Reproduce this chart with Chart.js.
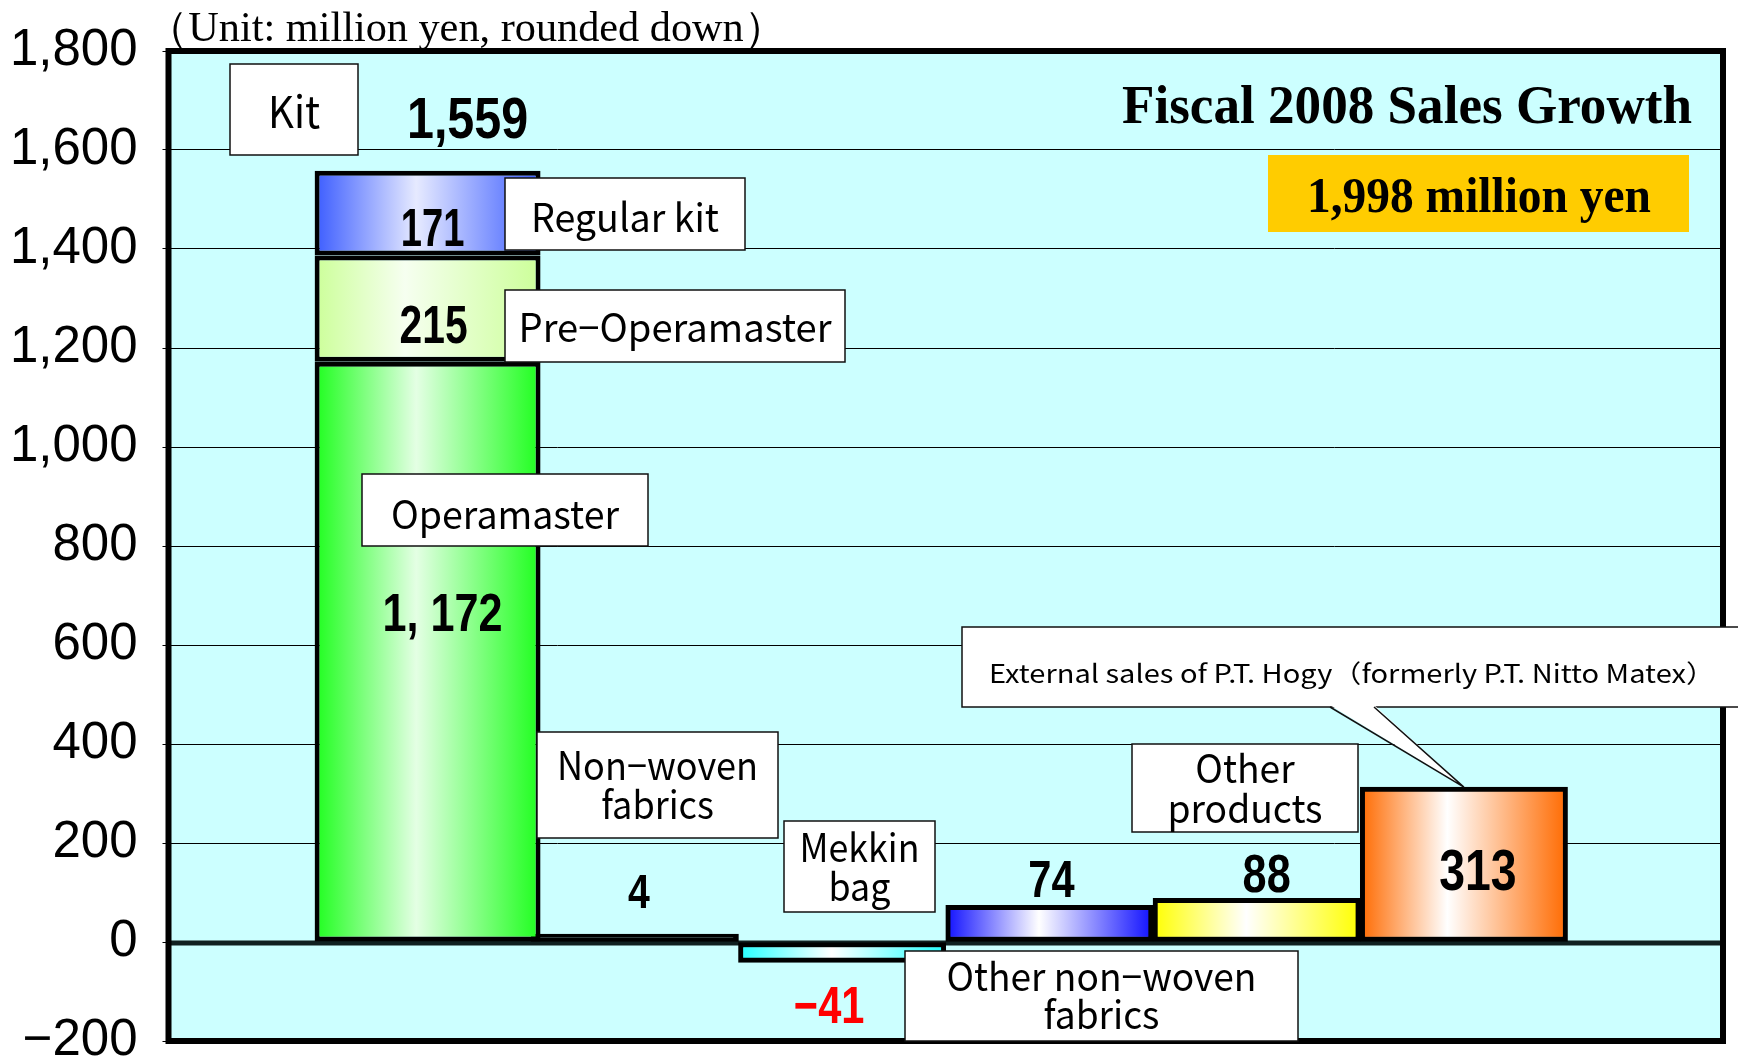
<!DOCTYPE html>
<html>
<head>
<meta charset="utf-8">
<script src="https://cdn.jsdelivr.net/npm/chart.js@4.4.0/dist/chart.umd.min.js"></script>
<style>
  html, body { margin: 0; padding: 0; background: #fff; }
  #wrap { width: 1738px; height: 1064px; }
</style>
</head>
<body>
<div id="wrap"><canvas id="growth" width="1738" height="1064"></canvas></div>
<script>
'use strict';

// ---- data (million yen, fiscal 2008 sales growth) ----
const CATEGORIES      = ['Kit', 'Non−woven fabrics', 'Mekkin bag', 'Other non−woven fabrics', 'Other products', 'External sales of P.T. Hogy'];
const KIT_SEGMENTS    = ['Operamaster', 'Pre−Operamaster', 'Regular kit'];
const OPERAMASTER     = [1172, null, null, null, null, null];
const PRE_OPERAMASTER = [215,  null, null, null, null, null];
const REGULAR_KIT     = [171,  null, null, null, null, null];
const OTHER_GROWTH    = [null, 4, -41, 74, 88, 313];
const KIT_TOTAL       = 1559;
const TOTAL_GROWTH    = 1998;
const Y_TICKS         = [-200, 0, 200, 400, 600, 800, 1000, 1200, 1400, 1600, 1800];

const SANS  = "'Liberation Sans', Arial, sans-serif";
const SERIF = "'Liberation Serif', 'Times New Roman', serif";
const GOTH  = "'Noto Sans CJK JP', 'Noto Sans', sans-serif";

// horizontal gradients, one per bar
const GRAD = {
  green:   [[0, '#1eff1e'], [0.45, '#e4ffe4'], [1, '#1eff1e']],
  lime:    [[0, '#ccff99'], [0.4, '#f6fff0'], [1, '#ccff99']],
  kitBlue: [[0, '#3b5cff'], [0.45, '#e6eaff'], [1, '#3b5cff']],
  black:   [[0, '#000'], [1, '#000']],
  cyan:    [[0, '#22ffff'], [0.45, '#ffffff'], [1, '#22ffff']],
  blue:    [[0, '#1010ff'], [0.45, '#ffffff'], [1, '#1010ff']],
  yellow:  [[0, '#ffff00'], [0.45, '#ffffff'], [1, '#ffff00']],
  orange:  [[0, '#ff6a00'], [0.42, '#ffffff'], [1, '#ff6a00']],
};
const OTHER_GRADS = [null, GRAD.black, GRAD.cyan, GRAD.blue, GRAD.yellow, GRAD.orange];
const KIT_WIDTH = 1.09;

const points = vals => vals.map((v, i) => v == null ? null : { x: i, y: v }).filter(p => p);
const fmt = v => (v < 0 ? '−' : '') + Math.abs(v).toLocaleString('en-US');

function gradientFill(pick, widthPct) {
  return ctx => {
    const stops = pick(ctx.raw ? ctx.raw.x : 0);
    const xs = ctx.chart.scales.x;
    if (!ctx.raw || !xs) return stops[0][1];
    const cx = xs.getPixelForValue(ctx.raw.x);
    const half = (xs.getPixelForValue(1) - xs.getPixelForValue(0)) * widthPct / 2;
    if (!isFinite(cx) || !isFinite(half)) return stops[0][1];
    const g = ctx.chart.ctx.createLinearGradient(cx - half, 0, cx + half, 0);
    stops.forEach(([o, c]) => g.addColorStop(o, c));
    return g;
  };
}

function drawText(ctx, text, x, y, font, color, sx, baseline) {
  ctx.save();
  ctx.font = font;
  ctx.fillStyle = color;
  ctx.textAlign = 'center';
  ctx.textBaseline = baseline || 'middle';
  ctx.translate(x, y);
  ctx.scale(sx, 1);
  ctx.fillText(text, 0, 0);
  ctx.restore();
}

function fitScale(ctx, lines, font, targetW) {
  ctx.save();
  ctx.font = font;
  const w = Math.max(...lines.map(l => ctx.measureText(l).width));
  ctx.restore();
  return targetW / w;
}

// label boxes: [left, top, width, height], line centres, widest-line width
const BOXES = [
  { r: [230, 64, 128, 91],  lines: [CATEGORIES[0]],                  ys: [111],      tw: 52,  size: 44 },
  { r: [505, 178, 240, 72], lines: [KIT_SEGMENTS[2]],                ys: [217],      tw: 188, size: 39 },
  { r: [505, 290, 340, 72], lines: [KIT_SEGMENTS[1]],                ys: [327],      tw: 313, size: 39 },
  { r: [362, 474, 286, 72], lines: [KIT_SEGMENTS[0]],                ys: [514],      tw: 228, size: 39 },
  { r: [537, 732, 241, 106], lines: ['Non−woven', 'fabrics'],        ys: [765, 804], tw: 201, size: 39 },
  { r: [784, 821, 151, 91], lines: ['Mekkin', 'bag'],                ys: [847, 886], tw: 120, size: 39 },
  { r: [905, 951, 393, 90], lines: ['Other non−woven', 'fabrics'],   ys: [976, 1014], tw: 310, size: 39 },
  { r: [1132, 744, 226, 88], lines: ['Other', 'products'],           ys: [768, 808], tw: 155, size: 39 },
];

// value labels anchored to the bars
const VALUE_LABELS = [
  { text: fmt(KIT_TOTAL), i: 0, v: KIT_TOTAL, dx: 40, dy: -53, size: 57, sx: 0.85 },
  { text: fmt(REGULAR_KIT[0]), i: 0, v: OPERAMASTER[0] + PRE_OPERAMASTER[0] + REGULAR_KIT[0] / 2, dx: 5, dy: 14, size: 53, sx: 0.72 },
  { text: fmt(PRE_OPERAMASTER[0]), i: 0, v: OPERAMASTER[0] + PRE_OPERAMASTER[0] / 2, dx: 6, dy: 15, size: 53, sx: 0.77 },
  { text: fmt(OPERAMASTER[0]).replace(',', ', '), i: 0, v: OPERAMASTER[0] / 2, dx: 15, dy: -40, size: 54 },
  { text: fmt(OTHER_GROWTH[1]), i: 1, v: OTHER_GROWTH[1], dx: 4, dy: -50, size: 49 },
  { text: fmt(OTHER_GROWTH[2]), i: 2, v: OTHER_GROWTH[2], dx: -13, dy: 42, size: 52, color: '#ff0000' },
  { text: fmt(OTHER_GROWTH[3]), i: 3, v: OTHER_GROWTH[3], dx: 2, dy: -27, size: 52 },
  { text: fmt(OTHER_GROWTH[4]), i: 4, v: OTHER_GROWTH[4], dx: 10, dy: -26, size: 54 },
  { text: fmt(OTHER_GROWTH[5]), i: 5, v: OTHER_GROWTH[5] / 2, dx: 14, dy: 5, size: 58 },
];

const decor = {
  id: 'decor',
  beforeDraw(chart) {
    const { ctx, chartArea: a } = chart;
    ctx.save();
    ctx.fillStyle = '#fff';
    ctx.fillRect(0, 0, chart.width, chart.height);
    ctx.fillStyle = '#ccffff';
    ctx.fillRect(a.left, a.top, a.right - a.left, a.bottom - a.top);
    ctx.restore();
  },
  beforeDatasetsDraw(chart) {
    // heavy zero line
    const { ctx, chartArea: a } = chart;
    const y0 = chart.scales.y.getPixelForValue(0);
    ctx.save();
    ctx.strokeStyle = '#102020';
    ctx.lineWidth = 5;
    ctx.beginPath();
    ctx.moveTo(a.left, y0 + 1);
    ctx.lineTo(a.right, y0 + 1);
    ctx.stroke();
    ctx.restore();
  },
  afterDatasetsDraw(chart) {
    const { ctx, chartArea: a } = chart;
    ctx.save();
    ctx.strokeStyle = '#000';
    ctx.lineWidth = 6;
    ctx.strokeRect(a.left, a.top, a.right - a.left, a.bottom - a.top);
    ctx.restore();
  },
  afterDraw(chart) {
    const { ctx } = chart;
    const xs = chart.scales.x, ys = chart.scales.y;

    // unit note and headline
    const unit = '（Unit: million yen, rounded down）';
    drawText(ctx, unit, 466, 41, `42px ${SERIF}`, '#000', fitScale(ctx, [unit], `42px ${SERIF}`, 640), 'alphabetic');
    const title = 'Fiscal 2008 Sales Growth';
    drawText(ctx, title, 1407, 123, `bold 54px ${SERIF}`, '#000', fitScale(ctx, [title], `bold 54px ${SERIF}`, 570), 'alphabetic');
    ctx.save();
    ctx.fillStyle = '#ffcc00';
    ctx.fillRect(1268, 155, 421, 77);
    ctx.restore();
    const total = fmt(TOTAL_GROWTH) + ' million yen';
    drawText(ctx, total, 1479, 212, `bold 50px ${SERIF}`, '#000', fitScale(ctx, [total], `bold 50px ${SERIF}`, 344), 'alphabetic');

    // category / segment boxes
    BOXES.forEach(b => {
      ctx.save();
      ctx.fillStyle = '#fff';
      ctx.strokeStyle = '#111';
      ctx.lineWidth = 1.5;
      ctx.fillRect(b.r[0], b.r[1], b.r[2], b.r[3]);
      ctx.strokeRect(b.r[0], b.r[1], b.r[2], b.r[3]);
      ctx.restore();
      const font = `${b.size}px ${GOTH}`;
      const sx = fitScale(ctx, b.lines, font, b.tw);
      const cx = b.r[0] + b.r[2] / 2;
      b.lines.forEach((l, k) => drawText(ctx, l, cx, b.ys[k], font, '#000', sx));
    });

    // callout for P.T. Hogy
    const tipX = xs.getPixelForValue(5), tipY = ys.getPixelForValue(OTHER_GROWTH[5]);
    ctx.save();
    ctx.fillStyle = '#fff';
    ctx.strokeStyle = '#111';
    ctx.lineWidth = 1.5;
    ctx.fillRect(962, 627, 790, 80);
    ctx.strokeRect(962, 627, 790, 80);
    ctx.beginPath();
    ctx.moveTo(1330, 705);
    ctx.lineTo(tipX, tipY);
    ctx.lineTo(1374, 705);
    ctx.closePath();
    ctx.fill();
    ctx.beginPath();
    ctx.moveTo(1330, 707); ctx.lineTo(tipX, tipY); ctx.lineTo(1374, 707);
    ctx.stroke();
    ctx.restore();
    const ext = CATEGORIES[5] + '（formerly P.T. Nitto Matex）';
    drawText(ctx, ext, 1352, 673, `25px ${GOTH}`, '#000', fitScale(ctx, [ext], `25px ${GOTH}`, 726));

    // values
    VALUE_LABELS.forEach(l => {
      const x = xs.getPixelForValue(l.i) + l.dx;
      const y = ys.getPixelForValue(l.v) + l.dy + l.size * 0.358;
      drawText(ctx, l.text, x, y, `bold ${l.size}px ${SANS}`, l.color || '#000', l.sx || 0.8, 'alphabetic');
    });
  },
};

const barStyle = { borderColor: '#000', borderWidth: 5, borderSkipped: false, categoryPercentage: 1 };

new Chart(document.getElementById('growth'), {
  type: 'bar',
  data: {
    datasets: [
      { ...barStyle, label: KIT_SEGMENTS[0], data: points(OPERAMASTER),     barPercentage: KIT_WIDTH, backgroundColor: gradientFill(() => GRAD.green, KIT_WIDTH) },
      { ...barStyle, label: KIT_SEGMENTS[1], data: points(PRE_OPERAMASTER), barPercentage: KIT_WIDTH, backgroundColor: gradientFill(() => GRAD.lime, KIT_WIDTH) },
      { ...barStyle, label: KIT_SEGMENTS[2], data: points(REGULAR_KIT),     barPercentage: KIT_WIDTH, backgroundColor: gradientFill(() => GRAD.kitBlue, KIT_WIDTH) },
      { ...barStyle, label: 'Other', data: points(OTHER_GROWTH), barPercentage: 1, minBarLength: 8, backgroundColor: gradientFill(i => OTHER_GRADS[i] || GRAD.black, 1) },
    ],
  },
  options: {
    responsive: false,
    animation: false,
    devicePixelRatio: 1,
    layout: { padding: { top: 51, right: 15, bottom: 23, left: 0 } },
    plugins: { legend: { display: false }, tooltip: { enabled: false } },
    scales: {
      x: {
        type: 'linear', stacked: true, display: false, offset: false,
        min: -1.25, max: CATEGORIES.length + 0.25,
        ticks: { stepSize: 1, includeBounds: false },
      },
      y: {
        stacked: true,
        min: Y_TICKS[0], max: Y_TICKS[Y_TICKS.length - 1],
        afterBuildTicks: s => { s.ticks = Y_TICKS.map(v => ({ value: v })); },
        ticks: { color: '#000', padding: 25, font: { family: SANS, size: 51 }, callback: v => fmt(v) },
        grid: { color: '#000', lineWidth: 1, tickLength: 6 },
        border: { display: false },
        afterFit: s => { s.width = 168.5; s.paddingTop = 0; s.paddingBottom = 0; },
      },
    },
  },
  plugins: [decor],
});
</script>
</body>
</html>
